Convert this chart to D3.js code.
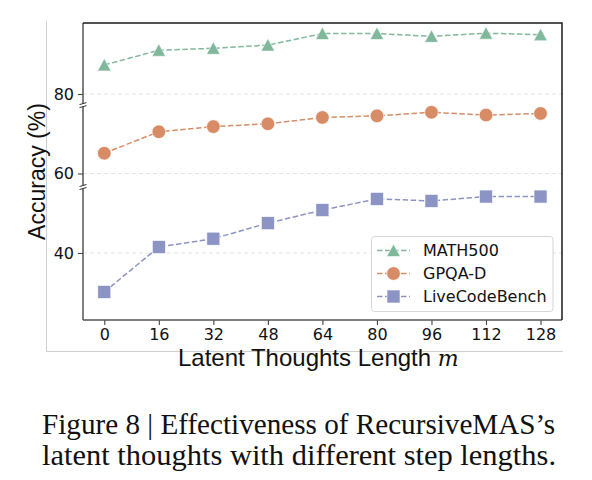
<!DOCTYPE html>
<html>
<head>
<meta charset="utf-8">
<script src="https://cdn.jsdelivr.net/npm/d3@7"></script>
<style>
  body { margin: 0; background: #fff; }
  svg { display: block; }
</style>
</head>
<body>
<div id="chart"></div>
<script>
// latent thoughts length m
const lengths = [0, 16, 32, 48, 64, 80, 96, 112, 128];
const math500 = [87.3, 91.0, 91.5, 92.3, 95.2, 95.2, 94.5, 95.3, 94.9];
const gpqaD = [65.1, 70.5, 71.8, 72.5, 74.1, 74.5, 75.4, 74.7, 75.1];
const liveCodeBench = [30.2, 41.5, 43.6, 47.5, 50.8, 53.6, 53.1, 54.2, 54.2];
const yTicks = [40, 60, 80];
const yBreaks = [77.2, 56.6];
const seriesNames = ['MATH500', 'GPQA-D', 'LiveCodeBench'];
const captionLines = [
  'Figure 8 | Effectiveness of RecursiveMAS\u2019s',
  'latent thoughts with different step lengths.'
];

const width = 592;
const height = 480;
const plot = { left: 83, right: 562, top: 23, bottom: 320 };

const svg = d3.select('#chart').append('svg')
  .attr('width', width)
  .attr('height', height)
  .attr('viewBox', `0 0 ${width} ${height}`);

const x = d3.scaleLinear().domain([-6.25, 134.3]).range([plot.left, plot.right]);
const y = d3.scaleLinear().domain([23.14, 97.86]).range([plot.bottom, plot.top]);

const series = [
  { name: seriesNames[0], values: math500, color: '#80b89c', shape: 'triangle' },
  { name: seriesNames[1], values: gpqaD, color: '#d88c65', shape: 'circle' },
  { name: seriesNames[2], values: liveCodeBench, color: '#8b94c4', shape: 'square' }
];

// faint figure border (left + bottom)
svg.append('path')
  .attr('d', `M46.5,21 V351.5 H563`)
  .attr('fill', 'none')
  .attr('stroke', '#cfcfcf')
  .attr('stroke-width', 1);

// grid lines
svg.append('g').selectAll('line')
  .data(yTicks)
  .join('line')
  .attr('x1', plot.left)
  .attr('x2', plot.right)
  .attr('y1', d => y(d))
  .attr('y2', d => y(d))
  .attr('stroke', '#e2e2e2')
  .attr('stroke-width', 1)
  .attr('stroke-dasharray', '4,3');

// axes
const xAxis = svg.append('g')
  .attr('transform', `translate(0,${plot.bottom})`)
  .call(d3.axisBottom(x).tickValues(lengths).tickSize(5).tickPadding(4));
const yAxis = svg.append('g')
  .attr('transform', `translate(${plot.left},0)`)
  .call(d3.axisLeft(y).tickValues(yTicks).tickSize(5).tickPadding(4));

[xAxis, yAxis].forEach(g => {
  g.select('.domain').remove();
  g.selectAll('.tick line').attr('stroke', '#444').attr('stroke-width', 1.1);
  g.selectAll('.tick text')
    .attr('fill', '#111')
    .style('font-family', 'DejaVu Sans')
    .style('font-size', '16px');
});

// frame: left/bottom spines grey, top/right dark
svg.append('line')
  .attr('x1', plot.left).attr('x2', plot.left)
  .attr('y1', plot.top).attr('y2', plot.bottom)
  .attr('stroke', '#555').attr('stroke-width', 1.5);
svg.append('line')
  .attr('x1', plot.left).attr('x2', plot.right)
  .attr('y1', plot.bottom).attr('y2', plot.bottom)
  .attr('stroke', '#555').attr('stroke-width', 1.5);
svg.append('path')
  .attr('d', `M${plot.left},${plot.top} H${plot.right} V${plot.bottom}`)
  .attr('fill', 'none')
  .attr('stroke', '#1a1a1a')
  .attr('stroke-width', 1.5);

// axis break marks
yBreaks.forEach(b => {
  const by = y(b);
  svg.append('rect')
    .attr('x', plot.left - 2).attr('y', by - 1.5)
    .attr('width', 4).attr('height', 3)
    .attr('fill', '#fff');
  [-1.5, 1.5].forEach(dy => {
    svg.append('line')
      .attr('x1', plot.left - 3.5).attr('y1', by + dy + 1)
      .attr('x2', plot.left + 3.5).attr('y2', by + dy - 1)
      .attr('stroke', '#333').attr('stroke-width', 1);
  });
});

const drawMarker = (g, shape, cx, cy, color) => {
  if (shape === 'triangle') {
    g.append('path')
      .attr('d', `M${cx},${cy - 6.5} L${cx - 6.8},${cy + 6} L${cx + 6.8},${cy + 6} Z`)
      .attr('fill', color).attr('stroke', '#fff').attr('stroke-width', 0.6);
  } else if (shape === 'circle') {
    g.append('circle')
      .attr('cx', cx).attr('cy', cy).attr('r', 6.8)
      .attr('fill', color).attr('stroke', '#fff').attr('stroke-width', 0.6);
  } else {
    g.append('rect')
      .attr('x', cx - 6.5).attr('y', cy - 6.5)
      .attr('width', 13).attr('height', 13)
      .attr('fill', color).attr('stroke', '#fff').attr('stroke-width', 0.6);
  }
};

const line = d3.line()
  .x((d, i) => x(lengths[i]))
  .y(d => y(d));

series.forEach(s => {
  const g = svg.append('g');
  g.append('path')
    .datum(s.values)
    .attr('d', line)
    .attr('fill', 'none')
    .attr('stroke', s.color)
    .attr('stroke-width', 1.5)
    .attr('stroke-dasharray', '5.5,2.5');
  s.values.forEach((v, i) => drawMarker(g, s.shape, x(lengths[i]), y(v), s.color));
});

// legend
const legend = svg.append('g');
legend.append('rect')
  .attr('x', 371.5).attr('y', 236.5)
  .attr('width', 181.5).attr('height', 75)
  .attr('rx', 3)
  .attr('fill', '#fff')
  .attr('fill-opacity', 0.85)
  .attr('stroke', '#d6d6d6')
  .attr('stroke-width', 1);
series.forEach((s, i) => {
  const ly = 250.5 + i * 23;
  legend.append('line')
    .attr('x1', 377).attr('x2', 410)
    .attr('y1', ly).attr('y2', ly)
    .attr('stroke', s.color)
    .attr('stroke-width', 1.5)
    .attr('stroke-dasharray', '5.5,2.5');
  drawMarker(legend, s.shape, 393.5, ly, s.color);
  legend.append('text')
    .attr('x', 423).attr('y', ly)
    .attr('dominant-baseline', 'central')
    .style('font-family', 'DejaVu Sans')
    .style('font-size', '16px')
    .attr('fill', '#111')
    .text(s.name);
});

// axis titles
svg.append('text')
  .attr('transform', 'translate(45,171.5) rotate(-90)')
  .attr('text-anchor', 'middle')
  .style('font-family', 'Liberation Sans')
  .style('font-size', '23px')
  .attr('fill', '#111')
  .text('Accuracy (%)');

const xTitle = svg.append('text')
  .attr('x', 178).attr('y', 366)
  .style('font-family', 'Liberation Sans')
  .style('font-size', '24px')
  .attr('fill', '#111');
xTitle.append('tspan').text('Latent Thoughts Length ');
xTitle.append('tspan')
  .style('font-family', 'DejaVu Serif')
  .style('font-style', 'italic')
  .style('font-size', '22px')
  .text('m');

// caption
const captionWidths = [513, 514];
svg.append('g').selectAll('text')
  .data(captionLines)
  .join('text')
  .attr('x', 42)
  .attr('y', (d, i) => 434 + i * 31)
  .attr('textLength', (d, i) => captionWidths[i])
  .attr('lengthAdjust', 'spacingAndGlyphs')
  .style('font-family', 'Liberation Serif')
  .style('font-size', '30px')
  .attr('fill', '#111')
  .text(d => d);
</script>
</body>
</html>
